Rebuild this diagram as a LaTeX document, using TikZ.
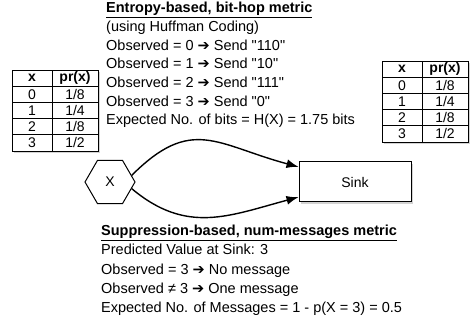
\documentclass[tikz,border=0pt]{standalone}
\usepackage{fontspec}
\setmainfont{Liberation Sans}
\newfontfamily\arrowfont{DejaVu Sans}
\usetikzlibrary{arrows.meta,shapes.geometric,shadows}

% heavy arrow used inside the text lines
\newcommand{\thenarrow}{{\arrowfont\bfseries\char"2794}}
% straight double quotes
\newcommand{\qt}[1]{\textquotedbl#1\textquotedbl}

\tikzset{
  shadowed/.style={drop shadow={shadow xshift=2pt,shadow yshift=-2.5pt,opacity=0.35}},
  cell/.style={draw,line width=0.9pt,minimum height=16.2pt,inner sep=0pt,outer sep=0pt,
    anchor=north west,font=\fontsize{14}{14}\selectfont},
  xcell/.style={cell,minimum width=40pt},
  pcell/.style={cell,minimum width=46pt},
  headcell/.style={font=\fontsize{14}{14}\selectfont\bfseries},
  tablebg/.style={fill=white,shadowed,minimum width=86pt,minimum height=81pt,
    inner sep=0pt,outer sep=0pt,anchor=north west},
  textblock/.style={anchor=north west,align=left,inner sep=0pt,
    font=\fontsize{14.5}{18.7}\selectfont},
  flow/.style={line width=1.4pt,-{Latex[length=12pt,width=9pt]}}
}

\begin{document}
\begin{tikzpicture}[x=1pt,y=1pt]
  \useasboundingbox (0,0) rectangle (471,-323);

  % the two probability tables
  \foreach \tab/\tx/\ty in {L/12/-70, R/382/-61} {
    \node[tablebg] (tab\tab) at (\tx,\ty) {};
    \node[xcell,headcell] (tab\tab-x) at (\tx,\ty) {x};
    \node[pcell,headcell] (tab\tab-pr) at (\tx+40,\ty) {pr(x)};
    \foreach \row/\val/\pr in {1/0/1\slash 8, 2/1/1\slash 4, 3/2/1\slash 8, 4/3/1\slash 2} {
      \node[xcell] (tab\tab-x\val) at (\tx,\ty-16.2*\row) {\val};
      \node[pcell] (tab\tab-p\val) at (\tx+40,\ty-16.2*\row) {\pr};
    }
  }

  % source and sink
  \node[regular polygon,regular polygon sides=6,minimum size=50pt,draw,line width=1pt,
    fill=white,font=\fontsize{14}{14}\selectfont] (X) at (110,-182) {X};
  \node[draw,line width=1pt,fill=white,shadowed,minimum width=112pt,minimum height=40pt,
    font=\fontsize{14}{14}\selectfont] (Sink) at (355,-182) {Sink};

  % the two ways of reporting
  \draw[flow] (X.17) to[out=45,in=165,looseness=1.3] (Sink.165);
  \draw[flow] (X.-17) to[out=-40,in=195,looseness=1.1] (Sink.195);

  % text above and below
  \node[textblock] (entropy) at (106,-2) {\underline{\textbf{Entropy-based, bit-hop metric}}\\
    (using Huffman Coding)\\
    Observed = 0 \thenarrow{} Send \qt{110}\\
    Observed = 1 \thenarrow{} Send \qt{10}\\
    Observed = 2 \thenarrow{} Send \qt{111}\\
    Observed = 3 \thenarrow{} Send \qt{0}\\
    Expected No. of bits = H(X) = 1.75 bits};
  \node[textblock,font=\fontsize{14.5}{19.2}\selectfont] (suppress) at (101,-225) {\underline{\textbf{Suppression-based, num-messages metric}}\\
    Predicted Value at Sink: 3\\
    Observed = 3 \thenarrow{} No message\\
    Observed ≠ 3 \thenarrow{} One message\\
    Expected No. of Messages = 1 - p(X = 3) = 0.5};
\end{tikzpicture}
\end{document}
